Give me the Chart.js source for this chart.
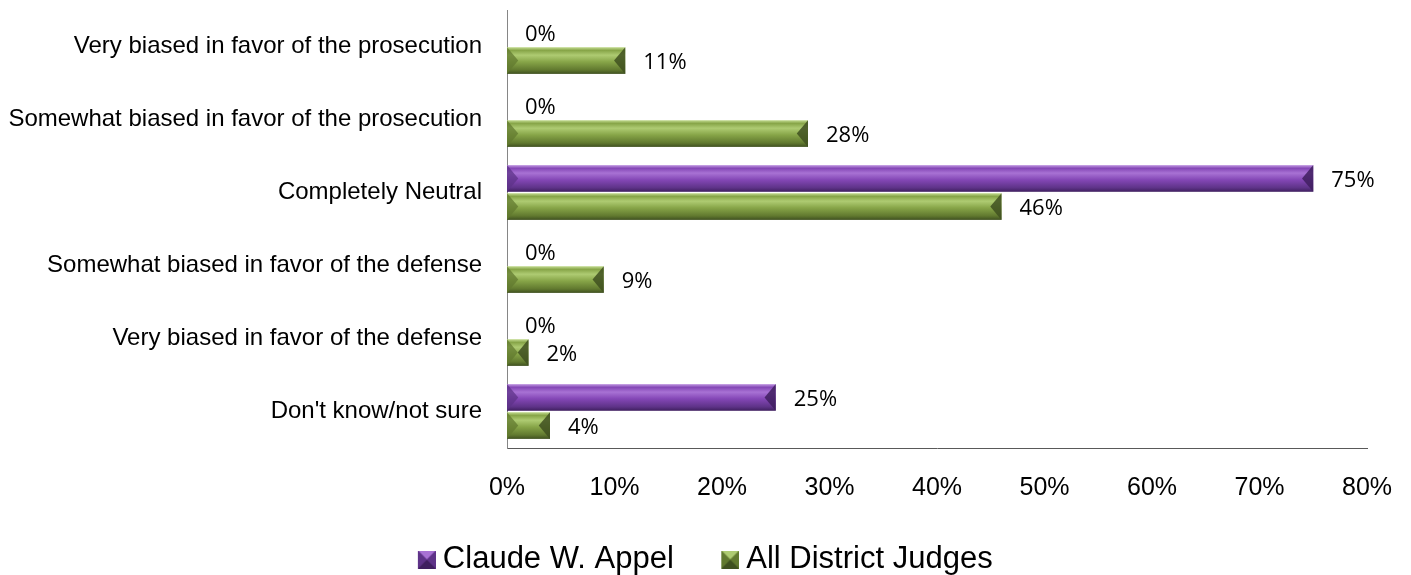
<!DOCTYPE html>
<html>
<head>
<meta charset="utf-8">
<title>Bias rating</title>
<script src="https://cdn.jsdelivr.net/npm/chart.js@4.4.1/dist/chart.umd.min.js"></script>
<style>
    body { margin: 0; background: #fff; }
    #wrap { position: relative; width: 1411px; height: 575px; }
</style>
</head>
<body>
<div id="wrap"><canvas id="bias-chart"></canvas></div>
<script>
// chart data
const categories = [
    'Very biased in favor of the prosecution',
    'Somewhat biased in favor of the prosecution',
    'Completely Neutral',
    'Somewhat biased in favor of the defense',
    'Very biased in favor of the defense',
    "Don't know/not sure"
];
const seriesNames = ['Claude W. Appel', 'All District Judges'];
const appelValues = [0, 0, 75, 0, 0, 25];
const districtValues = [11, 28, 46, 9, 2, 4];
const xTickValues = [0, 10, 20, 30, 40, 50, 60, 70, 80];

// bevel colours for each series
const palettes = [
    { top: '#c39be3', hi: '#a872d4', mid: '#8447b6', low: '#5e3388', edge: '#3f1f5f' },
    { top: '#c4dc92', hi: '#aecb72', mid: '#87a548', low: '#61792f', edge: '#3f5020' }
];

function drawBevel(ctx, x0, x1, yTop, yBot, pal) {
    const h = yBot - yTop;
    const w = x1 - x0;
    const b = Math.min(h * 0.42, w / 2);
    const g = ctx.createLinearGradient(0, yTop, 0, yBot);
    g.addColorStop(0, pal.top);
    g.addColorStop(0.12, pal.mid);
    g.addColorStop(0.3, pal.hi);
    g.addColorStop(0.55, pal.mid);
    g.addColorStop(0.85, pal.low);
    g.addColorStop(1, pal.edge);
    ctx.fillStyle = g;
    ctx.fillRect(x0, yTop, w, h);

    // left end
    ctx.fillStyle = pal.low;
    ctx.globalAlpha = 0.75;
    ctx.beginPath();
    ctx.moveTo(x0, yTop);
    ctx.lineTo(x0 + b, yTop + h / 2);
    ctx.lineTo(x0, yBot);
    ctx.closePath();
    ctx.fill();
    // right end
    ctx.fillStyle = pal.edge;
    ctx.globalAlpha = 0.85;
    ctx.beginPath();
    ctx.moveTo(x1, yTop);
    ctx.lineTo(x1 - b, yTop + h / 2);
    ctx.lineTo(x1, yBot);
    ctx.closePath();
    ctx.fill();
    ctx.globalAlpha = 1;
}

// bevelled legend square, drawn at the right end of a wider canvas
// so the gap between legend items comes out wider than the box-text gap
const SW_W = 64;
function legendSwatch(pal) {
    const c = document.createElement('canvas');
    c.width = SW_W;
    c.height = 18;
    const cx = c.getContext('2d');
    const o = SW_W - 18;
    cx.fillStyle = pal.mid;
    cx.fillRect(o, 0, 18, 18);
    const side = (pts, col) => {
        cx.fillStyle = col;
        cx.beginPath();
        cx.moveTo(o + pts[0], pts[1]);
        for (let k = 2; k < pts.length; k += 2) cx.lineTo(o + pts[k], pts[k + 1]);
        cx.closePath();
        cx.fill();
    };
    side([0, 0, 18, 0, 9, 9], pal.hi);
    side([0, 0, 9, 9, 0, 18], pal.low);
    side([18, 0, 9, 9, 18, 18], pal.low);
    side([0, 18, 9, 9, 18, 18], pal.edge);
    return c;
}
const swatches = palettes.map(legendSwatch);

const bevelBars = {
    id: 'bevelBars',
    afterDatasetsDraw(chart) {
        const ctx = chart.ctx;
        ctx.save();
        chart.data.datasets.forEach((ds, i) => {
            const meta = chart.getDatasetMeta(i);
            meta.data.forEach((bar, j) => {
                const p = bar.getProps(['x', 'y', 'base', 'height'], true);
                const yTop = p.y - p.height / 2;
                const yBot = p.y + p.height / 2;
                if (p.x - p.base > 0.5) {
                    drawBevel(ctx, p.base, p.x, yTop, yBot, palettes[i]);
                }
                ctx.fillStyle = '#000';
                ctx.font = '22px "Open Sans"';
                ctx.textBaseline = 'middle';
                ctx.textAlign = 'left';
                ctx.fillText(ds.data[j] + '%', p.x + 18, p.y + 2);
            });
        });
        ctx.restore();
    }
};

new Chart(document.getElementById('bias-chart'), {
    type: 'bar',
    data: {
        labels: categories,
        datasets: [
            { label: seriesNames[0], data: appelValues, backgroundColor: 'rgba(0,0,0,0)' },
            { label: seriesNames[1], data: districtValues, backgroundColor: 'rgba(0,0,0,0)' }
        ]
    },
    options: {
        indexAxis: 'y',
        responsive: true,
        maintainAspectRatio: false,
        animation: false,
        categoryPercentage: 0.77,
        barPercentage: 0.95,
        layout: { padding: { top: 10, right: 44, left: 6, bottom: -10 } },
        scales: {
            x: {
                min: 0,
                max: 80,
                afterBuildTicks: scale => {
                    scale.ticks = xTickValues.map(v => ({ value: v }));
                },
                afterFit: scale => { scale.height = 86; },
                grid: { display: false, drawTicks: true, tickLength: 22 },
                border: { display: true, color: '#595959', width: 1 },
                ticks: {
                    color: '#000',
                    font: { family: 'Arial', size: 25 },
                    padding: 3,
                    callback: v => v + '%'
                }
            },
            y: {
                afterFit: scale => { scale.width = 501; },
                grid: { display: false, drawTicks: true, tickLength: 25 },
                border: { display: true, color: '#868686', width: 1 },
                ticks: {
                    color: '#000',
                    font: { family: 'Arial', size: 24, lineHeight: 0.8 },
                    padding: 0
                }
            }
        },
        plugins: {
            tooltip: { enabled: false },
            legend: {
                position: 'bottom',
                labels: {
                    color: '#000',
                    font: { family: 'Arial', size: 31 },
                    usePointStyle: true,
                    pointStyleWidth: SW_W - 17,
                    boxHeight: 18,
                    padding: 10,
                    generateLabels: chart => chart.data.datasets.map((ds, i) => ({
                        text: ds.label,
                        pointStyle: swatches[i],
                        fillStyle: palettes[i].mid,
                        strokeStyle: palettes[i].mid,
                        lineWidth: 0,
                        fontColor: '#000',
                        hidden: !chart.isDatasetVisible(i),
                        datasetIndex: i
                    }))
                }
            }
        }
    },
    plugins: [bevelBars]
});
</script>
</body>
</html>
